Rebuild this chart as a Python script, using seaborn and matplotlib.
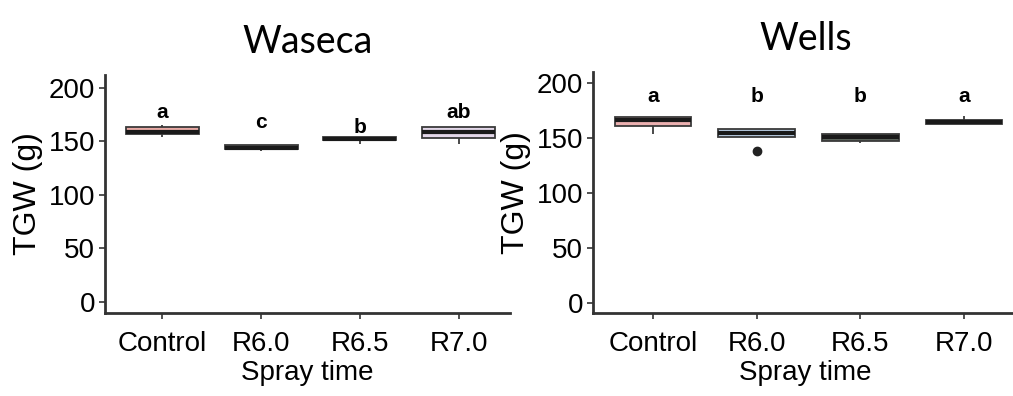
import matplotlib
matplotlib.use("Agg")
import matplotlib.pyplot as plt
import numpy as np
import pandas as pd
import seaborn as sns

sns.set_style("white")
plt.rcParams['font.family'] = ['Liberation Sans', 'DejaVu Sans']
plt.rcParams['text.color'] = 'black'
plt.rcParams['axes.labelcolor'] = 'black'
plt.rcParams['xtick.color'] = 'black'
plt.rcParams['ytick.color'] = 'black'

spray = ["Control", "R6.0", "R6.5", "R7.0"]

# TGW (g) per plot
waseca_control = [154, 157, 159, 163.5, 165]
waseca_r60 = [141, 142.7, 144, 146.4, 146.4]
waseca_r65 = [148, 151, 152.5, 154.5, 154.5]
waseca_r70 = [147.7, 153, 159, 163.3, 163.3]

wells_control = [153.4, 161, 166.4, 169.4, 169.4]
wells_r60 = [138.5, 151, 155, 158.5, 158.5]
wells_r65 = [145.7, 147.5, 150.6, 153.4, 153.4]
wells_r70 = [162.4, 162.4, 164.3, 166.4, 170]

waseca_letters = ["a", "c", "b", "ab"]
waseca_letter_y = [177, 168, 163, 177]
wells_letters = ["a", "b", "b", "a"]
wells_letter_y = [187.5, 187.5, 187.5, 187.5]

waseca_colors = ["#F4A09A", "#8a8a8a", "#8a8a8a", "#E4D4EC"]
wells_colors = ["#F5A6A6", "#B7D3EF", "#5F6B5F", "#5a5a5a"]


def long_df(groups):
    rows = []
    for name, vals in zip(spray, groups):
        for v in vals:
            rows.append({"Spray time": name, "TGW": v})
    return pd.DataFrame(rows)


def panel(ax, df, colors, letters, letter_y, title, ylim):
    sns.boxplot(data=df, x="Spray time", y="TGW", hue="Spray time", order=spray,
                palette=colors, legend=False, width=0.74, ax=ax,
                linecolor="#3a3a3a", linewidth=1.3, showcaps=False,
                medianprops={"color": "#1a1a1a", "linewidth": 3},
                flierprops={"marker": "o", "markerfacecolor": "#222222",
                            "markeredgecolor": "#222222", "markersize": 6})
    for i, (lab, y) in enumerate(zip(letters, letter_y)):
        ax.text(i, y, lab, ha="center", va="center", fontsize=15,
                fontweight="bold")
    ax.set_ylim(*ylim)
    ax.set_yticks([0, 50, 100, 150, 200])
    ax.set_xlim(-0.58, 3.52)
    ax.set_ylabel("TGW (g)", fontsize=23, labelpad=4)
    ax.set_xlabel("Spray time", fontsize=20, labelpad=2)
    ax.tick_params(axis="both", labelsize=20, length=4, width=1.2,
                   color="#333333", left=True, bottom=True, pad=3)
    ax.tick_params(axis="x", pad=9)
    for s in ["top", "right"]:
        ax.spines[s].set_visible(False)
    for s in ["left", "bottom"]:
        ax.spines[s].set_color("#333333")
        ax.spines[s].set_linewidth(2)
    ax.set_title(title, fontsize=27, pad=16,
                 family=["Lato", "DejaVu Sans"])


fig = plt.figure(figsize=(10.13, 3.96), dpi=100)
ax1 = fig.add_axes([105 / 1013, 1 - 313 / 396, 405 / 1013, 238 / 396])
ax2 = fig.add_axes([593 / 1013, 1 - 313 / 396, 425 / 1013, 241 / 396])

panel(ax1, long_df([waseca_control, waseca_r60, waseca_r65, waseca_r70]),
      waseca_colors, waseca_letters, waseca_letter_y, "Waseca", (-10.3, 212))
panel(ax2, long_df([wells_control, wells_r60, wells_r65, wells_r70]),
      wells_colors, wells_letters, wells_letter_y, "Wells", (-9, 210))

fig.savefig("out.png", dpi=100)
